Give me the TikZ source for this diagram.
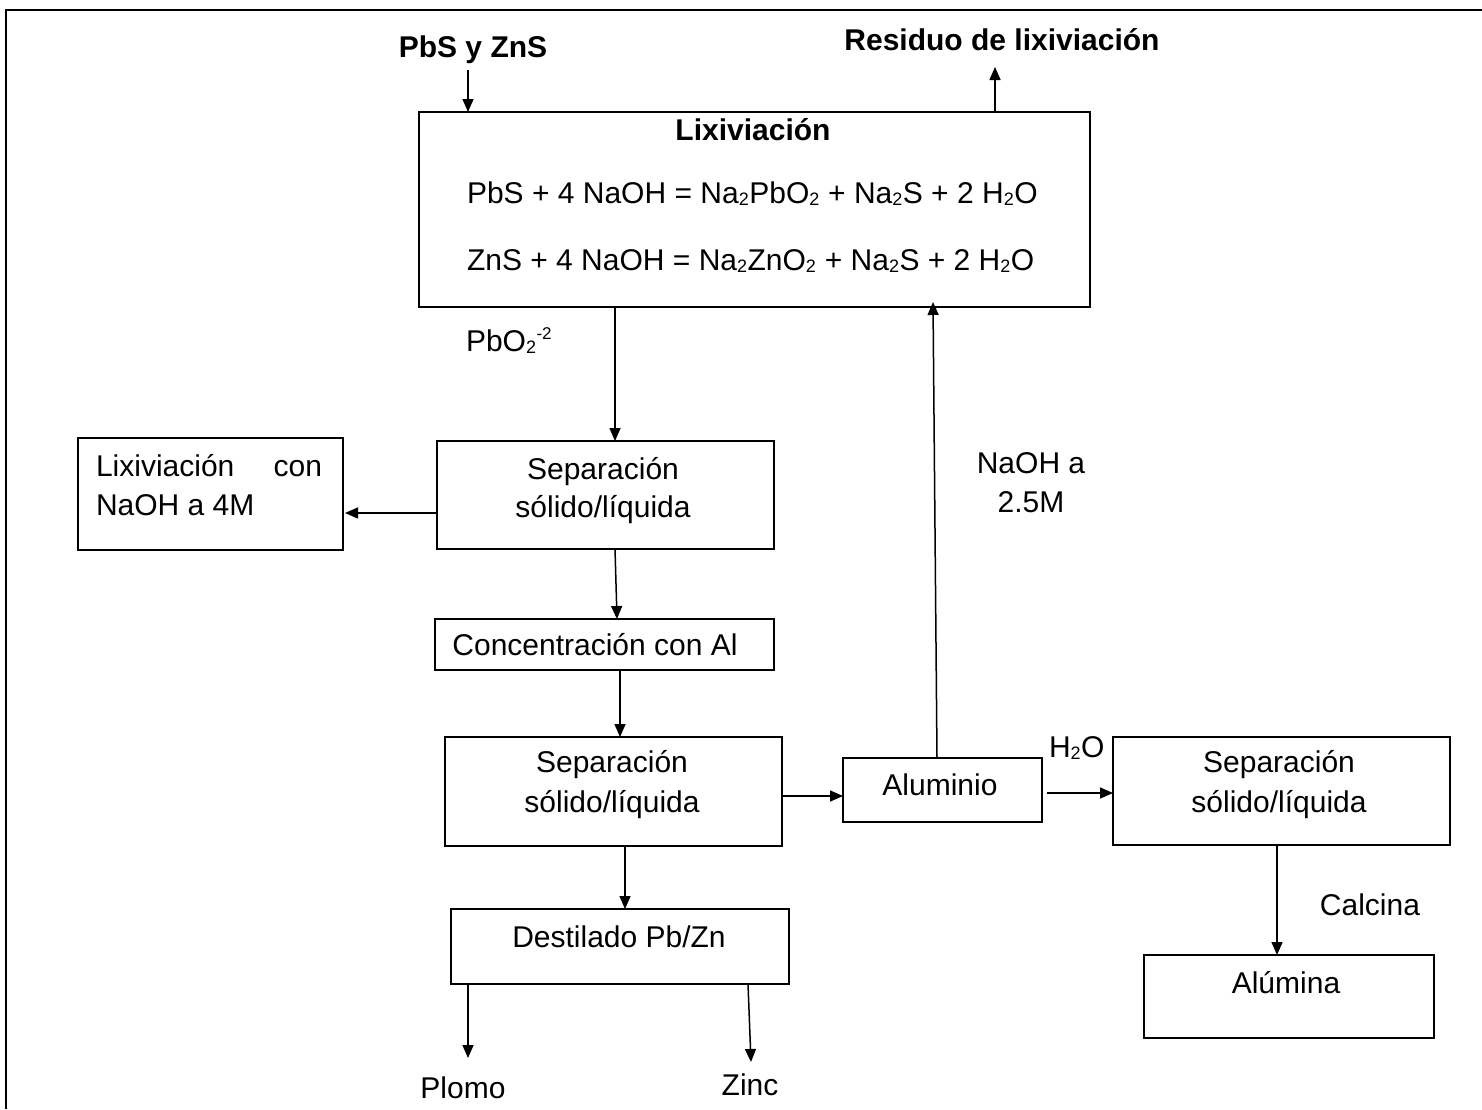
\documentclass[tikz,border=0pt]{standalone}
\usepackage{fontspec}
\setmainfont{Liberation Sans}
\usetikzlibrary{arrows.meta}
\newcommand\mysub[1]{\raisebox{-2.5pt}{\fontsize{18}{18}\selectfont #1}\kern0.5pt\relax}
\newcommand\mysup[1]{\raisebox{12pt}{\fontsize{17}{17}\selectfont #1}}
\begin{document}
\begin{tikzpicture}[x=1pt,y=-1pt,
  box/.style={draw, line width=1.8pt, inner sep=0pt, outer sep=0pt},
  txt/.style={inner sep=0pt, outer sep=0pt, font=\fontsize{30}{36}\selectfont, anchor=base},
  btxt/.style={inner sep=0pt, outer sep=0pt, font=\fontsize{30}{36}\selectfont\bfseries, anchor=base},
  arr/.style={line width=1.5pt, -{Triangle[length=13pt,width=11pt]}}]
\useasboundingbox (0,0) rectangle (1482,1109);
% outer frame (cut at right and bottom)
\draw[line width=1.8pt] (6,1109) -- (6,10) -- (1482,10);

% boxes
\node[box, minimum width=671pt, minimum height=195pt] (lix) at (754.5,209.5) {};
\node[box, minimum width=337pt, minimum height=108pt] (sep1) at (605.5,495) {};
\node[box, minimum width=265pt, minimum height=112pt] (lix4) at (210.5,494) {};
\node[box, minimum width=339pt, minimum height=51pt] (conc) at (604.5,644.5) {};
\node[box, minimum width=337pt, minimum height=109pt] (sep2) at (613.5,791.5) {};
\node[box, minimum width=199pt, minimum height=64pt] (alu) at (942.5,790) {};
\node[box, minimum width=337pt, minimum height=108pt] (sep3) at (1281.5,791) {};
\node[box, minimum width=290pt, minimum height=83pt] (alum) at (1289,996.5) {};
\node[box, minimum width=338pt, minimum height=75pt] (dest) at (620,946.5) {};

% texts
\node[btxt] (tin) at (473,57) {PbS y ZnS};
\node[btxt] (tres) at (1002,50) {Residuo de lixiviación};
\node[btxt] (tlix) at (753,140) {Lixiviación};
\node[txt, anchor=base west] (eq1) at (467,203) {PbS + 4 NaOH = Na\mysub{2}PbO\mysub{2} + Na\mysub{2}S + 2 H\mysub{2}O};
\node[txt, anchor=base west] (eq2) at (467,270) {ZnS + 4 NaOH = Na\mysub{2}ZnO\mysub{2} + Na\mysub{2}S + 2 H\mysub{2}O};
\node[txt, anchor=base west] (tpbo) at (466,351) {PbO\mysub{2}\mysup{-2}};
\node[txt] (s1a) at (603,479) {Separación};
\node[txt] (s1b) at (603,517) {sólido/líquida};
\node[txt, anchor=base west] (l4a) at (96,476) {\makebox[226pt][s]{Lixiviación\hfill con}};
\node[txt, anchor=base west] (l4b) at (96,515) {NaOH a 4M};
\node[txt] (tconc) at (595,655) {Concentración con Al};
\node[txt] (s2a) at (612,772) {Separación};
\node[txt] (s2b) at (612,812) {sólido/líquida};
\node[txt] (talu) at (940,795) {Aluminio};
\node[txt] (tna1) at (1031,473) {NaOH a};
\node[txt] (tna2) at (1031,512) {2.5M};
\node[txt, anchor=base west] (th2o) at (1049,757) {H\mysub{2}O};
\node[txt] (s3a) at (1279,772) {Separación};
\node[txt] (s3b) at (1279,812) {sólido/líquida};
\node[txt] (tcal) at (1370,915) {Calcina};
\node[txt] (talum) at (1286,993) {Alúmina};
\node[txt] (tdest) at (619,947) {Destilado Pb/Zn};
\node[txt] (tplomo) at (463,1098) {Plomo};
\node[txt] (tzinc) at (750,1095) {Zinc};

% free ends
\coordinate (inTop) at (468,70);
\coordinate (outTop) at (995,67);
\coordinate (plomoEnd) at (468,1058);
\coordinate (zincEnd) at (751,1062);

% connectors
\draw[arr] (inTop) -- (inTop |- lix.north);
\draw[arr] (outTop |- lix.north) -- (outTop);
\draw[arr] (lix.south -| 615,0) -- (sep1.north -| 615,0);
\draw[arr] (sep1.west |- 0,513) -- ([xshift=2pt]lix4.east |- 0,513);
\draw[arr] (sep1.south -| 615,0) -- (conc.north -| 617,0);
\draw[arr] (conc.south -| 620,0) -- (sep2.north -| 620,0);
\draw[arr] (sep2.east |- 0,796) -- (alu.west |- 0,796);
\draw[arr] (alu.north -| 937,0) -- ([yshift=5pt]lix.south -| 933,0);
\draw[arr] ([xshift=5pt]alu.east |- 0,793) -- (sep3.west |- 0,793);
\draw[arr] (sep3.south -| 1277,0) -- (alum.north -| 1277,0);
\draw[arr] (sep2.south -| 625,0) -- (dest.north -| 625,0);
\draw[arr] (dest.south -| plomoEnd) -- (plomoEnd);
\draw[arr] (dest.south -| 748,0) -- (zincEnd);
\end{tikzpicture}
\end{document}
